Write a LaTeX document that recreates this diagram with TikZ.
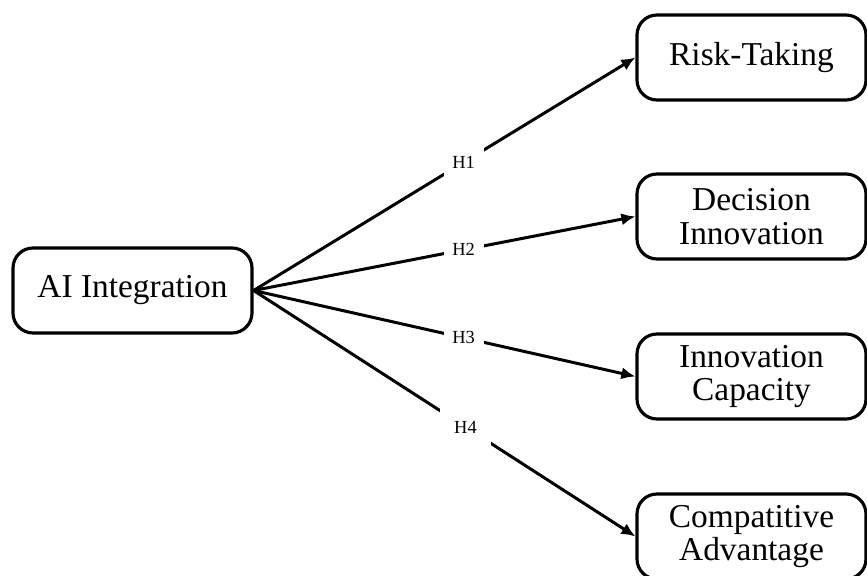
\documentclass[tikz,border=0pt]{standalone}
\usepackage{fontspec}
\setmainfont{Liberation Serif}
\usetikzlibrary{arrows.meta}
\tikzset{
  box/.style={draw, line width=1.8pt, rounded corners=0.4cm, align=center,
    minimum height=1.7cm, inner sep=0pt, font=\fontsize{19}{19}\selectfont},
  hyp/.style={fill=white, inner sep=5pt, font=\fontsize{10.5}{12}\selectfont},
  link/.style={line width=1.7pt, -{Latex[length=8pt, width=7pt]}}
}
\begin{document}
\begin{tikzpicture}[line cap=round,line join=round,x=1cm,y=1cm]
\useasboundingbox (0,0) rectangle (17.34,11.52);
\node[box, minimum width=4.78cm] (ai) at (2.65,5.71) {AI Integration};

\node[box, minimum width=4.58cm] (risk) at (15.03,10.37) {Risk-Taking};
\node[box, minimum width=4.58cm] (decision) at (15.03,7.19) {Decision\\Innovation};
\node[box, minimum width=4.58cm] (capacity) at (15.03,3.99) {Innovation\\Capacity};
\node[box, minimum width=4.58cm] (advantage) at (15.03,0.79) {Compatitive\\Advantage};

\draw [link] (ai.east) -- node[hyp, pos=0.55] (h1) {H1} (risk.west);
\draw [link] (ai.east) -- node[hyp, pos=0.55] (h2) {H2} (decision.west);
\draw [link] (ai.east) -- node[hyp, pos=0.55] (h3) {H3} (capacity.west);
\draw [link] (ai.east) -- node[hyp, pos=0.555, inner sep=8pt] (h4) {H4} (advantage.west);
\end{tikzpicture}
\end{document}
